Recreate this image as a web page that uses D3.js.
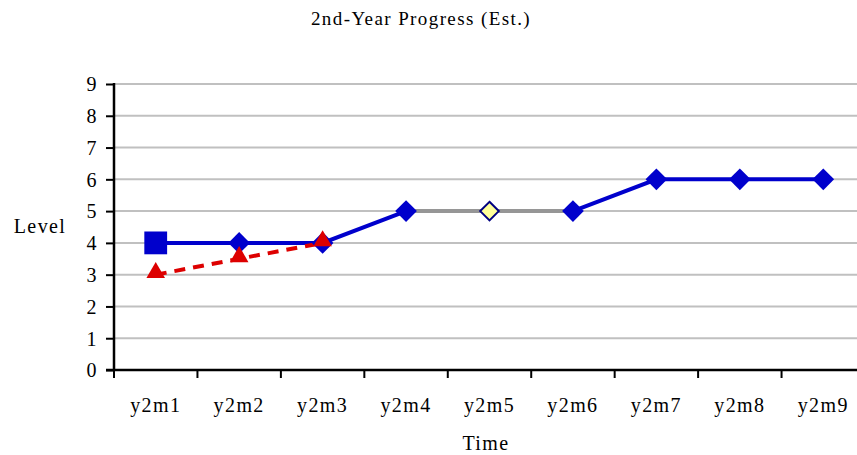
<!DOCTYPE html>
<html>
<head>
<meta charset="utf-8">
<script src="https://cdn.jsdelivr.net/npm/d3@7"></script>
<style>
body { margin: 0; background: #fff; }
text { font-family: "Palatino Linotype", "Book Antiqua", "Liberation Serif", "DejaVu Serif", serif; fill: #000; letter-spacing: 1.4px; }
</style>
</head>
<body>
<div id="chart"></div>
<script>
const categories = ["y2m1", "y2m2", "y2m3", "y2m4", "y2m5", "y2m6", "y2m7", "y2m8", "y2m9"];
const actual = [4, 4, 4, 5, null, 5, 6, 6, 6];
const estimate = [null, null, null, 5, 5, 5, null, null, null];
const target = [3, 3.5, 4, null, null, null, null, null, null];
const yTicks = [0, 1, 2, 3, 4, 5, 6, 7, 8, 9];

const dims = {width: 857, height: 455};
const plot = {left: 114, top: 84, right: 865, bottom: 370};

const svg = d3.select("#chart")
    .append("svg")
    .attr("width", dims.width)
    .attr("height", dims.height);

const xScale = d3.scaleBand().domain(categories).range([plot.left, plot.right]);
const yScale = d3.scaleLinear().domain([0, 9]).range([plot.bottom, plot.top]);
const cx = c => xScale(c) + xScale.bandwidth() / 2;

// gridlines
svg.append("g")
    .selectAll("line")
    .data(yTicks.filter(d => d > 0))
    .enter()
    .append("line")
    .attr("x1", plot.left)
    .attr("x2", dims.width)
    .attr("y1", d => yScale(d))
    .attr("y2", d => yScale(d))
    .attr("stroke", "#c0c0c0")
    .attr("stroke-width", 2);

// y axis
const yAxis = svg.append("g")
    .attr("transform", `translate(${plot.left},0)`)
    .call(d3.axisLeft(yScale).tickValues(yTicks).tickSize(8).tickPadding(8).tickFormat(d3.format("d")));
yAxis.select(".domain").attr("stroke", "#000").attr("stroke-width", 2.5)
    .attr("d", `M0,${plot.top - 1}V${plot.bottom}`);
yAxis.selectAll(".tick line").attr("stroke", "#000").attr("stroke-width", 2);
yAxis.selectAll(".tick text").style("font-size", "20px")
    .style("font-family", "'Palatino Linotype', 'Book Antiqua', 'Liberation Serif', serif")
    .attr("dy", "0.34em");

// x axis
const tickPos = categories.map(c => xScale(c));
const xg = svg.append("g");
xg.append("line")
    .attr("x1", plot.left - 8).attr("x2", dims.width)
    .attr("y1", plot.bottom).attr("y2", plot.bottom)
    .attr("stroke", "#000").attr("stroke-width", 2.5);
xg.selectAll(".xt")
    .data(tickPos)
    .enter()
    .append("line")
    .attr("x1", d => d).attr("x2", d => d)
    .attr("y1", plot.bottom).attr("y2", plot.bottom + 8)
    .attr("stroke", "#000").attr("stroke-width", 2);
xg.selectAll(".xl")
    .data(categories)
    .enter()
    .append("text")
    .attr("x", d => cx(d))
    .attr("y", 412)
    .attr("text-anchor", "middle")
    .style("font-size", "20px")
    .text(d => d);

// titles
svg.append("text").attr("x", 421).attr("y", 25).attr("text-anchor", "middle")
    .style("font-size", "19px").text("2nd-Year Progress (Est.)");
svg.append("text").attr("x", 40).attr("y", 233).attr("text-anchor", "middle")
    .style("font-size", "20px").text("Level");
svg.append("text").attr("x", 486).attr("y", 450).attr("text-anchor", "middle")
    .style("font-size", "20px").text("Time");

const line = d3.line()
    .defined(d => d.v !== null)
    .x(d => cx(d.c))
    .y(d => yScale(d.v));
const pts = arr => categories.map((c, i) => ({c: c, v: arr[i]}));

// estimate (gray)
svg.append("path")
    .datum(pts(estimate))
    .attr("d", line)
    .attr("fill", "none")
    .attr("stroke", "#969696")
    .attr("stroke-width", 4);

// actual (blue)
svg.append("path")
    .datum(pts(actual))
    .attr("d", line)
    .attr("fill", "none")
    .attr("stroke", "#0000cc")
    .attr("stroke-width", 4);

// target (red dashed)
svg.append("path")
    .datum(pts(target))
    .attr("d", line)
    .attr("fill", "none")
    .attr("stroke", "#dd0000")
    .attr("stroke-width", 4)
    .attr("stroke-dasharray", "11,8");

// actual markers
const diamond = d3.symbol().type(d3.symbolDiamond2).size(300);
const square = d3.symbol().type(d3.symbolSquare).size(520);
svg.append("g")
    .selectAll("path")
    .data(pts(actual).filter(d => d.v !== null))
    .enter()
    .append("path")
    .attr("transform", d => `translate(${cx(d.c)},${yScale(d.v)})`)
    .attr("d", (d, i) => i === 0 ? square() : diamond())
    .attr("fill", "#0000cc");

// estimate marker
svg.append("g")
    .selectAll("path")
    .data(pts(estimate).filter((d, i) => d.v !== null && actual[i] === null))
    .enter()
    .append("path")
    .attr("transform", d => `translate(${cx(d.c)},${yScale(d.v)})`)
    .attr("d", d3.symbol().type(d3.symbolDiamond2).size(220)())
    .attr("fill", "#ffff99")
    .attr("stroke", "#000080")
    .attr("stroke-width", 2);

// target markers
svg.append("g")
    .selectAll("path")
    .data(pts(target).filter(d => d.v !== null))
    .enter()
    .append("path")
    .attr("transform", d => `translate(${cx(d.c)},${yScale(d.v) - 2})`)
    .attr("d", d3.symbol().type(d3.symbolTriangle).size(150)())
    .attr("fill", "#dd0000");
</script>
</body>
</html>
